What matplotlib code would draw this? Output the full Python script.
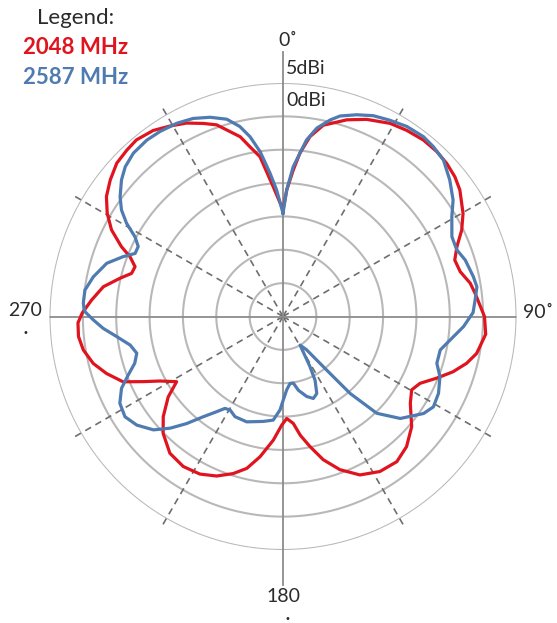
import numpy as np
import matplotlib
matplotlib.use("Agg")
import matplotlib.pyplot as plt

# gain pattern: angle (deg, clockwise from top) and gain (dBi)
red_deg = [0, 1.7, 4.0, 5.9, 8.5, 11.9, 18, 23, 29, 33.6, 38.5, 43, 46.9, 50.9, 54.4, 60.2,
           64.2, 68.1, 71.8, 75.8, 79.9, 83.1, 90, 95, 100.8, 104.3, 108, 111.9, 116, 119.7,
           124.3, 130.6, 136.5, 141.9, 148, 154.1, 159.6, 164.3, 168.3, 171.7, 174.5, 177.9,
           180.7, 184.5, 189.3, 193.4, 197.6, 202.6, 207.8, 213.6, 219.6, 225.7, 230.1, 235,
           238.5, 242.3, 245, 247.8, 252.1, 256.1, 260.5, 264.4, 268.2, 271, 274.9, 279.4,
           283.2, 285.9, 288.6, 291.3, 293.4, 296.8, 300.4, 304.2, 308.3, 312.7, 316.8, 320.3,
           325.1, 329.3, 333.5, 337.6, 340.9, 346.6, 349, 351.8, 355.7, 360]
red_db = [-14.0, -11.0, -8.0, -5.4, -2.75, -0.7, 1.0, 2.1, 3.1, 3.5, 3.8, 3.8, 3.6, 3.2, 2.6, 1.1,
          -0.25, -1.9, -2.9, -2.6, -1.5, -1.0, 0.2, 0.5, -0.45, -1.6, -3.2, -5.2, -7.15, -7.8,
          -6.9, -4.6, -3.1, -2.35, -2.6, -3.6, -5.5, -7.7, -10.1, -12.0, -13.9, -14.7,
          -13.7, -11.4, -8.7, -6.6, -5.3, -4.1, -3.3, -3.0, -3.4, -4.9, -6.6, -9.0,
          -11.3, -9.2, -6.9, -4.1, -2.2, -0.7, 0.35, 0.8, 0.75, 0.1, -1.2, -2.7,
          -4.9, -6.4, -6.6, -5.4, -3.6, -1.2, 0.55, 2.0, 3.0, 3.9, 4.2, 4.4,
          4.0, 3.2, 2.4, 1.3, 0.4, -2.3, -4.1, -5.8, -10.5, -14.0]

blue_deg = [0, 1.7, 3.9, 5.9, 7.6, 10.2, 13.5, 15.9, 20.1, 24.2, 28.6, 33.1, 38, 41.5, 45.7,
            50.7, 55.6, 59.4, 64.7, 69, 72.8, 78.2, 81.3, 85.1, 88.8, 93.2, 98, 102, 106.9,
            111, 116.3, 121, 124.6, 131, 135.9, 138.9, 140.8, 144.7, 149.2, 151.7, 153.3,
            156.3, 159.7, 163.5, 168.2, 171.2, 174, 177.1, 179.8, 181.8, 185.4, 190.6, 199,
            205.6, 209.5, 212.3, 214.9, 218.5, 222, 225.3, 228.8, 233.4, 237.6, 242, 246,
            249.3, 252.5, 255.9, 259.4, 263.1, 266.2, 268.9, 271.4, 273.8, 277.6, 281.8,
            286.8, 290.5, 293.1, 295.8, 298.3, 300.8, 303.4, 306.3, 310.2, 313.5, 317.5,
            322.3, 326.4, 331.2, 335.6, 339.9, 344.1, 347.2, 349.6, 352.1, 354.8, 357.1, 360]
blue_db = [-14.5, -11.0, -7.5, -5.4, -3.3, -1.3, 0.3, 1.25, 2.2, 3.0, 3.5, 4.0, 4.2, 4.0, 3.6,
           2.3, 0.9, -0.6, -2.0, -2.1, -1.4, -0.85, -0.6, -1.1, -1.5, -2.9, -4.7, -5.9, -5.9,
           -4.8, -4.0, -3.7, -4.4, -6.7, -9.8, -14.7, -19.6, -23.9, -25.0, -21.5, -19.3,
           -17.4, -16.9, -17.5, -18.7, -19.9, -19.9, -19.0, -17.5, -16.0, -14.4, -14.0, -13.3,
           -13.35, -13.9, -13.7, -12.6, -10.8, -8.4, -6.2, -4.2, -2.7, -1.95, -2.3, -3.5,
           -5.2, -6.7, -7.4, -6.7, -4.9, -3.0, -1.6, -0.3, 0.0, -0.05, -0.95,
           -2.4, -4.4, -5.9, -5.9, -4.8, -2.7, -1.0, 0.3, 1.7, 2.6, 3.2,
           3.4, 3.3, 3.05, 2.6, 1.8, 0.75, -0.8, -2.6, -5.05, -8.4, -11.0, -14.5]

ring_db = [-25, -20, -15, -10, -5, 0, 5]
solid_spokes = [0, 90, 180, 270]
dashed_spokes = [30, 60, 120, 150, 210, 240, 300, 330]

W, H = 557, 623
fig = plt.figure(figsize=(W / 100, H / 100), dpi=100)
cx, cy, R = 283, 316.5, 233.5
ax = fig.add_axes([(cx - R) / W, (H - cy - R) / H, 2 * R / W, 2 * R / H], projection="polar")
ax.set_theta_zero_location("N")
ax.set_theta_direction(-1)
ax.set_rlim(-30, 5)
ax.grid(False)
ax.spines["polar"].set_visible(False)
ax.set_xticks([])
ax.set_yticks([])
ax.patch.set_alpha(0)

t = np.linspace(0, 2 * np.pi, 400)
for r in ring_db:
    ax.plot(t, np.full_like(t, r), color="#b8b8b8", lw=1.5, zorder=1)

for a in dashed_spokes:
    ax.plot([np.radians(a)] * 2, [-30, 6.5], color="#6e6e6e", lw=1.2,
            dashes=(4, 3), zorder=1, clip_on=False)
ax.plot([np.radians(90)] * 2, [-30, 5], color="#8c8c8c", lw=1.3, zorder=1)
ax.plot([np.radians(270)] * 2, [-30, 5], color="#8c8c8c", lw=1.3, zorder=1)
ax.plot([0, 0], [-30, 9.7], color="#8c8c8c", lw=1.3, zorder=1, clip_on=False)
ax.plot([np.pi] * 2, [-30, 10.2], color="#8c8c8c", lw=1.3, zorder=1, clip_on=False)

ax.plot(np.radians(red_deg), red_db, color="#e0141e", lw=2.3, zorder=3,
        solid_joinstyle="round")
ax.plot(np.radians(blue_deg), blue_db, color="#4f7bb0", lw=2.3, zorder=4,
        solid_joinstyle="round")


def ftext(x, y, s, **kw):
    fig.text(x / W, 1 - y / H, s, **kw)


fam = ["Lato", "DejaVu Sans"]
ftext(76, 18, "Legend:", ha="center", va="center", fontsize=16, color="#2b2b2b", family=fam)
ftext(76, 48, "2048 MHz", ha="center", va="center", fontsize=16, color="#e0141e",
      fontweight="bold", family=fam)
ftext(76, 78, "2587 MHz", ha="center", va="center", fontsize=16, color="#4f7bb0",
      fontweight="bold", family=fam)

lab = dict(fontsize=14, color="#2b2b2b", family=fam, va="center")
ftext(288, 40, "0˚", ha="center", **lab)
ftext(286, 68, "5dBi", ha="left", **lab)
ftext(286, 100, "0dBi", ha="left", **lab)
ftext(25, 310, "270", ha="center", **lab)
ftext(25, 333, "•", ha="center", fontsize=7, color="#2b2b2b", va="center")
ftext(538, 313, "90˚", ha="center", **lab)
ftext(283, 597, "180", ha="center", **lab)
ftext(287, 619, "•", ha="center", fontsize=7, color="#2b2b2b", va="center")

fig.savefig("out.png", dpi=100)
